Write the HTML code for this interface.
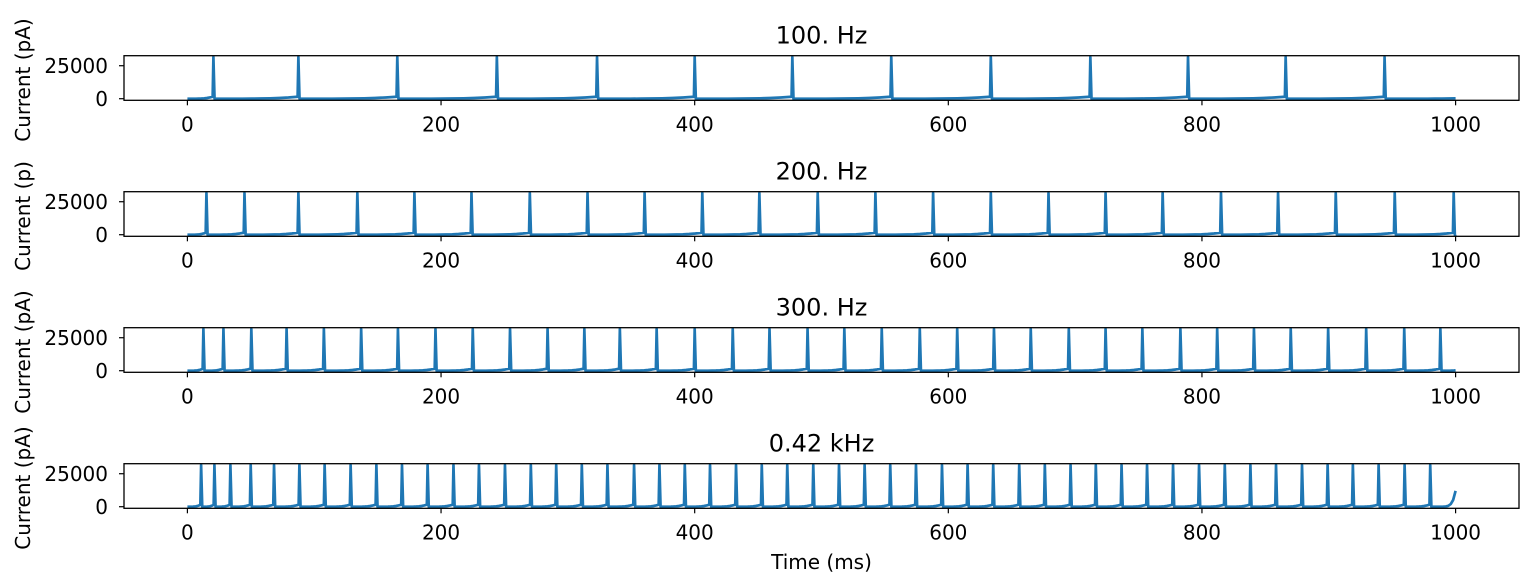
<!DOCTYPE html>
<html><head><meta charset="utf-8">
<style>
body{margin:0;background:#fff;}
svg{display:block;font-family:"DejaVu Sans","Liberation Sans",sans-serif;}
</style></head>
<body>
<svg id="chart" width="1534" height="587" viewBox="0 0 1534 587" xmlns="http://www.w3.org/2000/svg"></svg>
<script>
const panelTitles = ["100. Hz","200. Hz","300. Hz","0.42 kHz"];
const yLabels = ["Current (pA)","Current (p)","Current (pA)","Current (pA)"];
const xTicks = [0,200,400,600,800,1000];
const yTicks = [0,25000];
const spikes100 = [20.5,87.5,165.5,244,323,400,477,555,633.5,712,789,866,944];
const spikes200 = [15,45,87.5,134,179,224,270,315.5,360.5,406,451,497,542.5,588,633.5,679,724,769,815,860,905.5,952,998.5];
const spikes300 = [12.6,28.4,50.4,78.2,107.6,137,166,195.6,225,254.4,284,313,341,370,400,430,459,489,518,547.5,577.5,607,636,665,695,724,753,783,812,841,870,899.5,929.5,959.5,988];
const spikes420 = [10.8,21.3,33.9,49.9,68.3,88.3,108.2,128.7,149,169.2,189.4,209.8,229.9,250.4,270.8,290.8,311,331.2,352.2,372.2,392.2,412.1,432.6,452.9,473,493.5,513.8,534,554.2,574.5,595,615.2,635.4,655.9,676.1,696.4,716.3,736.6,756.7,777.2,797.7,818,838.2,858.4,878.9,899.1,919,939.3,959.8,980];
const peakValue = 31500;
const rampValue = 1500;
const endValues = [300,300,300,12000];
const allSpikes = [spikes100,spikes200,spikes300,spikes420];

const NS="http://www.w3.org/2000/svg";
const svg=document.getElementById('chart');
function mk(tag,attrs,parent){const e=document.createElementNS(NS,tag);for(const k in attrs)e.setAttribute(k,attrs[k]);(parent||svg).appendChild(e);return e;}
const L=124,R=1519,H=44.6,xmin=-50,xmax=1050,ymin=-1200,ymax=32600;
const tops=[55.7,191.7,327.7,463.7];
const xs=v=>L+(v-xmin)/(xmax-xmin)*(R-L);

allSpikes.forEach((sp,i)=>{
  const top=tops[i];
  const ys=v=>top+H-(v-ymin)/(ymax-ymin)*H;
  const g=mk('g',{});
  
  
  const t=mk('text',{x:(L+R)/2,y:top-12.4,'text-anchor':'middle','font-size':'24'},g);
  t.textContent=panelTitles[i];
  
  
  const yl=mk('text',{x:0,y:0,'text-anchor':'middle','font-size':'20',transform:`translate(30,${top+H/2+2}) rotate(-90)`},g);
  yl.textContent=yLabels[i];
  
  
  let pts=[[0,0]];let prev=0;
  sp.forEach(s=>{
    for(let k=1;k<=8;k++){const f=k/9;pts.push([prev+(s-0.6-prev)*f,rampValue*Math.pow(f,4)]);}
    pts.push([s-0.6,rampValue]);pts.push([s,peakValue]);pts.push([s+0.9,0]);prev=s+0.9;
  });
  const ev=endValues[i];
  for(let k=1;k<=10;k++){const f=k/10;pts.push([prev+(1000-prev)*f,ev*Math.pow(f,ev>5000?8:4)]);}
  const p=mk('polyline',{points:pts.map(q=>xs(q[0]).toFixed(2)+','+ys(q[1]).toFixed(2)).join(' '),fill:'none',stroke:'#1f77b4','stroke-width':'2.7','stroke-linejoin':'round'},g);
  
  
  const f=mk('rect',{x:L,y:top,width:R-L,height:H,fill:'none',stroke:'#000','stroke-width':'1.3'},g);
  
  
  xTicks.forEach(v=>{
    mk('line',{x1:xs(v),x2:xs(v),y1:top+H,y2:top+H+5,stroke:'#000','stroke-width':'1.2'},g);
    const tl=mk('text',{x:xs(v),y:top+H+31,'text-anchor':'middle','font-size':'20'},g);
    tl.textContent=v;
    
    
  });
  yTicks.forEach(v=>{
    mk('line',{x1:L-5,x2:L,y1:ys(v),y2:ys(v),stroke:'#000','stroke-width':'1.2'},g);
    const tl=mk('text',{x:L-16,y:ys(v)+7.3,'text-anchor':'end','font-size':'20'},g);
    tl.textContent=v;
    
    
  });
});
const xt=mk('text',{x:(L+R)/2,y:569,'text-anchor':'middle','font-size':'20'});
xt.textContent='Time (ms)';


</script>
</body></html>
